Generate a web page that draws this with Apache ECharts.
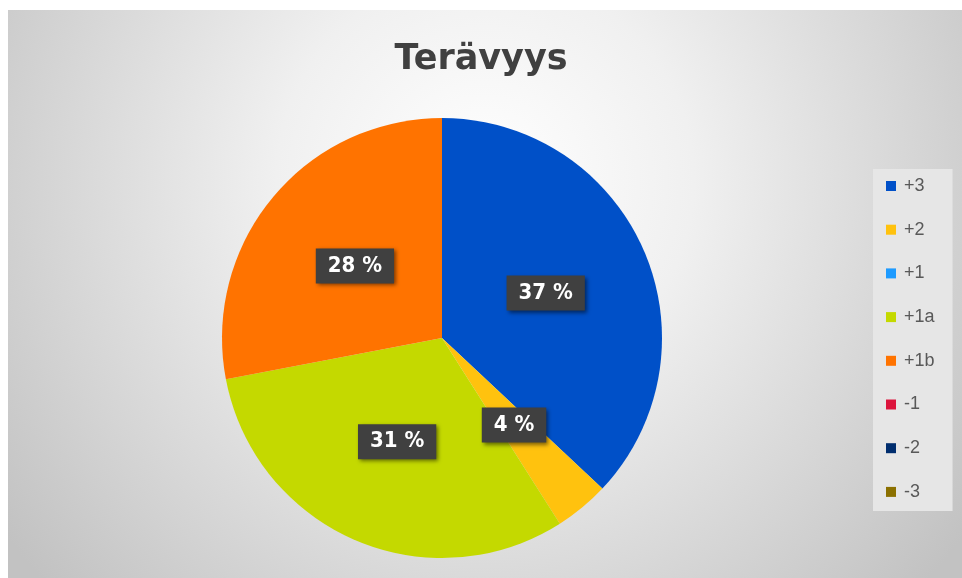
<!DOCTYPE html>
<html>
<head>
<meta charset="utf-8">
<script src="https://cdn.jsdelivr.net/npm/echarts@6/dist/echarts.min.js"></script>
<style>
html,body{margin:0;padding:0;background:#ffffff;}
#chart{width:962px;height:578px;}
</style>
</head>
<body>
<div id="chart"></div>
<script>
var titleText = 'Terävyys';
var categories = ['+3', '+2', '+1', '+1a', '+1b', '-1', '-2', '-3'];
var values = [37, 4, 0, 31, 28, 0, 0, 0];
var colors = ['#0050C8', '#FFC20E', '#1E9BFF', '#C4D900', '#FF7300', '#DC143C', '#002D6E', '#8B7000'];

var chart = echarts.init(document.getElementById('chart'), null, {renderer: 'canvas'});

var pieData = categories.map(function (c, i) {
  return {name: c, value: values[i], label: {show: values[i] > 0}};
});

chart.setOption({
  animation: false,
  backgroundColor: '#ffffff',
  color: colors,
  graphic: [{
    type: 'rect',
    left: 8, top: 10, z: -10,
    shape: {width: 954, height: 568},
    style: {
      fill: {
        type: 'radial', x: 0.5, y: 0.3, r: 1.05,
        colorStops: [
          {offset: 0, color: '#ffffff'},
          {offset: 0.35, color: '#f0f0f0'},
          {offset: 1, color: '#c2c2c2'}
        ]
      }
    }
  }],
  title: {
    text: titleText,
    left: 'center',
    top: 37,
    textStyle: {
      fontFamily: 'DejaVu Sans',
      fontWeight: 'bold',
      fontSize: 35,
      color: '#404040'
    }
  },
  legend: {
    orient: 'vertical',
    left: 873,
    top: 169,
    itemWidth: 10,
    itemHeight: 10,
    itemGap: 25.7,
    padding: [8, 18, 10, 13],
    backgroundColor: '#e6e6e6',
    icon: 'rect',
    data: categories,
    textStyle: {
      fontFamily: 'Liberation Sans',
      fontSize: 18,
      color: '#595959',
      padding: [0, 0, 0, 3]
    }
  },
  series: [{
    type: 'pie',
    center: [442, 338],
    radius: [0, 220],
    startAngle: 90,
    clockwise: true,
    avoidLabelOverlap: false,
    data: pieData,
    itemStyle: {borderWidth: 0},
    emphasis: {disabled: true},
    labelLine: {show: false},
    label: {
      position: 'inside',
      formatter: function (p) { return Math.round(p.percent) + ' %'; },
      fontFamily: 'DejaVu Sans Condensed, Liberation Sans, sans-serif',
      fontWeight: 'bold',
      fontSize: 22,
      color: '#ffffff',
      backgroundColor: '#404040',
      padding: [7, 12, 6, 12],
      shadowColor: 'rgba(0,0,0,0.5)',
      shadowBlur: 4,
      shadowOffsetX: 2,
      shadowOffsetY: 2
    }
  }]
});
</script>
</body>
</html>
